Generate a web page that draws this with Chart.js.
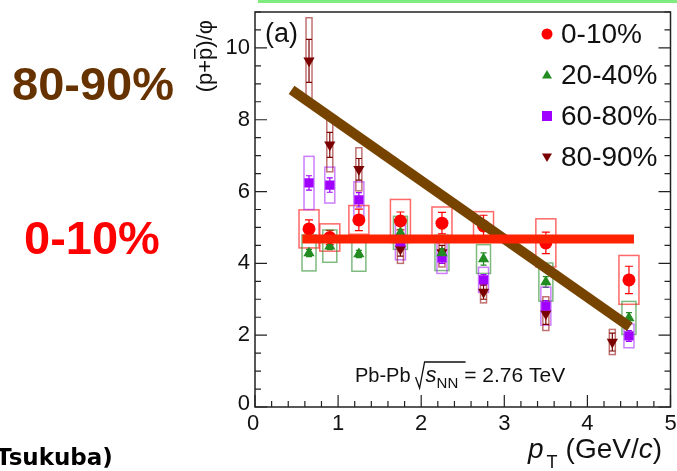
<!DOCTYPE html>
<html>
<head>
<meta charset="utf-8">
<script src="https://cdn.jsdelivr.net/npm/chart.js@4.4.1/dist/chart.umd.min.js"></script>
<style>
  html, body { margin: 0; padding: 0; background: #fff; }
</style>
</head>
<body>
<canvas id="myChart" width="677" height="471"></canvas>
<script>
// pT bin centres (GeV/c)
const ptBins = [0.65, 0.9, 1.25, 1.75, 2.25, 2.75, 3.5, 4.5];
const ptBins8090 = [0.65, 0.9, 1.25, 1.75, 2.25, 2.75, 3.5, 4.3];

// (p+pbar)/phi per centrality, with stat and sys errors
const ratio0010 = [4.96, 4.72, 5.21, 5.18, 5.12, 5.04, 4.57, 3.54];
const stat0010 = [0.25, 0.2, 0.3, 0.25, 0.3, 0.3, 0.3, 0.38];
const sys0010 = [0.53, 0.38, 0.4, 0.6, 0.45, 0.4, 0.67, 0.68];

const ratio2040 = [4.29, 4.48, 4.26, 4.85, 4.29, 4.12, 3.48, 2.48];
const stat2040 = [0.1, 0.1, 0.1, 0.1, 0.12, 0.17, 0.15, 0.15];
const sys2040 = [0.5, 0.45, 0.48, 0.46, 0.49, 0.4, 0.53, 0.46];

const ratio6080 = [6.24, 6.18, 5.77, 4.6, 4.15, 3.54, 2.81, 1.98];
const stat6080 = [0.2, 0.2, 0.2, 0.15, 0.15, 0.15, 0.15, 0.15];
const sys6080 = [0.74, 0.5, 0.5, 0.5, 0.43, 0.35, 0.53, 0.33];

const ratio8090 = [9.64, 7.3, 6.62, 4.4, 4.3, 3.2, 2.6, 1.81];
const stat8090 = [0.6, 0.35, 0.3, 0.2, 0.2, 0.2, 0.3, 0.25];
const sys8090 = [1.2, 0.75, 0.6, 0.4, 0.4, 0.3, 0.47, 0.35];

// hand-drawn trend lines on top of the plot
const brownLineX = [0.44, 4.51];
const brownLineY = [8.83, 2.23];
const redLineX = [0.57, 4.56];
const redLineY = [4.68, 4.68];

const xTicks = [0, 1, 2, 3, 4, 5];
const yTicks = [0, 2, 4, 6, 8, 10];

const series = [
    { label: '0-10%', x: ptBins, y: ratio0010, stat: stat0010, sys: sys0010,
      color: '#ff0000', box: 'rgba(255,40,40,0.7)', half: 10, cap: 4, style: 'circle', radius: 6.5, rot: 0 },
    { label: '20-40%', x: ptBins, y: ratio2040, stat: stat2040, sys: sys2040,
      color: '#228b22', box: 'rgba(40,140,40,0.6)', half: 7, cap: 3, style: 'triangle', radius: 6.5, rot: 0 },
    { label: '60-80%', x: ptBins, y: ratio6080, stat: stat6080, sys: sys6080,
      color: '#a000ff', box: 'rgba(170,40,255,0.6)', half: 5, cap: 3, style: 'rect', radius: 6.5, rot: 0 },
    { label: '80-90%', x: ptBins8090, y: ratio8090, stat: stat8090, sys: sys8090,
      color: '#7a0000', box: 'rgba(150,20,20,0.6)', half: 3, cap: 3, style: 'triangle', radius: 6.5, rot: 180 },
];

const toPoints = (xs, ys) => xs.map((v, i) => ({ x: v, y: ys[i] }));

const FONT = '"Liberation Sans", Arial, Helvetica, sans-serif';

const errorBars = {
    id: 'errorBars',
    beforeDatasetsDraw(chart) {
        const { ctx, scales: { x, y } } = chart;
        ctx.save();
        series.forEach(s => {
            ctx.strokeStyle = s.box;
            ctx.lineWidth = 1.5;
            s.x.forEach((v, i) => {
                const px = x.getPixelForValue(v);
                const top = y.getPixelForValue(s.y[i] + s.sys[i]);
                const bot = y.getPixelForValue(s.y[i] - s.sys[i]);
                ctx.strokeRect(px - s.half, top, 2 * s.half, bot - top);
            });
            ctx.strokeStyle = s.color;
            ctx.lineWidth = 1.2;
            s.x.forEach((v, i) => {
                const px = x.getPixelForValue(v);
                const top = y.getPixelForValue(s.y[i] + s.stat[i]);
                const bot = y.getPixelForValue(s.y[i] - s.stat[i]);
                ctx.beginPath();
                ctx.moveTo(px, top); ctx.lineTo(px, bot);
                ctx.moveTo(px - s.cap, top); ctx.lineTo(px + s.cap, top);
                ctx.moveTo(px - s.cap, bot); ctx.lineTo(px + s.cap, bot);
                ctx.stroke();
            });
        });
        ctx.restore();
    }
};

function marker(ctx, style, cx, cy, r, color, rot) {
    ctx.fillStyle = color;
    ctx.beginPath();
    if (style === 'circle') {
        ctx.arc(cx, cy, r, 0, Math.PI * 2);
    } else if (style === 'rect') {
        ctx.rect(cx - r, cy - r, 2 * r, 2 * r);
    } else {
        const d = rot ? -1 : 1;
        ctx.moveTo(cx, cy - d * r);
        ctx.lineTo(cx - r, cy + d * r * 0.7);
        ctx.lineTo(cx + r, cy + d * r * 0.7);
        ctx.closePath();
    }
    ctx.fill();
}

const frameAndText = {
    id: 'frameAndText',
    afterDraw(chart) {
        const { ctx, chartArea: a, scales: { x, y } } = chart;
        ctx.save();

        // green strip at the top of the slide
        ctx.fillStyle = '#80ec80';
        ctx.fillRect(258, 0, 419, 3);

        // frame
        ctx.strokeStyle = '#222';
        ctx.lineWidth = 1.5;
        ctx.strokeRect(a.left, a.top, a.right - a.left, a.bottom - a.top);

        // ticks
        ctx.lineWidth = 1.2;
        ctx.beginPath();
        for (let v = 0; v <= 11.001; v += 0.5) {
            const py = y.getPixelForValue(v);
            const len = Math.abs(v % 2) < 0.01 ? 12 : 6;
            ctx.moveTo(a.left, py); ctx.lineTo(a.left + len, py);
            ctx.moveTo(a.right, py); ctx.lineTo(a.right - len, py);
        }
        for (let v = 0; v <= 5.001; v += 0.2) {
            const px = x.getPixelForValue(v);
            const len = Math.abs(v - Math.round(v)) < 0.01 ? 12 : 6;
            ctx.moveTo(px, a.bottom); ctx.lineTo(px, a.bottom - len);
        }
        ctx.stroke();

        // tick labels
        ctx.fillStyle = '#111';
        ctx.font = '22px ' + FONT;
        ctx.textAlign = 'right';
        ctx.textBaseline = 'middle';
        yTicks.forEach(v => ctx.fillText(String(v), a.left - 5, y.getPixelForValue(v) - (v === 0 ? 3 : 0)));
        ctx.textAlign = 'center';
        ctx.textBaseline = 'top';
        xTicks.forEach(v => ctx.fillText(String(v), x.getPixelForValue(v) - (v === 0 ? 2 : 0), a.bottom + 6));

        // x title: p_T (GeV/c)
        ctx.textAlign = 'left';
        ctx.textBaseline = 'alphabetic';
        let tx = 528;
        ctx.font = 'italic 28px ' + FONT;
        ctx.fillText('p', tx, 458);
        tx += ctx.measureText('p').width + 3;
        ctx.font = '18px ' + FONT;
        ctx.fillText('T', tx, 468);
        tx += ctx.measureText('T').width + 8;
        ctx.font = '28px ' + FONT;
        ctx.fillText('(GeV/', tx, 458);
        tx += ctx.measureText('(GeV/').width;
        ctx.font = 'italic 28px ' + FONT;
        ctx.fillText('c', tx, 458);
        tx += ctx.measureText('c').width;
        ctx.font = '28px ' + FONT;
        ctx.fillText(')', tx, 458);

        // y title: (p+pbar)/phi, rotated
        ctx.save();
        ctx.translate(212, 20);
        ctx.rotate(-Math.PI / 2);
        ctx.font = '22px ' + FONT;
        ctx.textBaseline = 'alphabetic';
        const parts = ['(p+', 'p', ')/\u03c6'];
        const w = parts.map(p => ctx.measureText(p).width);
        let ty = -(w[0] + w[1] + w[2]);
        ctx.textAlign = 'left';
        ctx.fillText(parts[0], ty, 0); ty += w[0];
        ctx.fillText(parts[1], ty, 0);
        ctx.fillRect(ty + 1, -18, w[1] - 2, 1.5);
        ty += w[1];
        ctx.fillText(parts[2], ty, 0);
        ctx.restore();

        // panel tag
        ctx.font = '27px ' + FONT;
        ctx.textAlign = 'left';
        ctx.textBaseline = 'middle';
        ctx.fillText('(a)', 265, 35);

        // legend
        ctx.font = '28px ' + FONT;
        const legendY = [34, 75, 116, 157];
        series.forEach((s, i) => {
            marker(ctx, s.style, 547, legendY[i], s.style === 'circle' ? 5.5 : 5, s.color, s.rot);
            ctx.fillStyle = '#111';
            ctx.fillText(s.label, 561, legendY[i] + 1);
        });

        // collision system
        ctx.fillStyle = '#111';
        ctx.textBaseline = 'alphabetic';
        let sx = 355;
        ctx.font = '20px ' + FONT;
        ctx.fillText('Pb-Pb', sx, 382);
        sx += ctx.measureText('Pb-Pb').width + 5;
        ctx.strokeStyle = '#111';
        ctx.lineWidth = 1.3;
        ctx.beginPath();
        ctx.moveTo(sx, 377); ctx.lineTo(sx + 4, 388); ctx.lineTo(sx + 9, 362); ctx.lineTo(sx + 50, 362);
        ctx.stroke();
        sx += 10;
        ctx.font = 'italic 22px ' + FONT;
        ctx.fillText('s', sx, 382);
        sx += ctx.measureText('s').width;
        ctx.font = '15px ' + FONT;
        ctx.fillText('NN', sx, 388);
        sx += ctx.measureText('NN').width + 6;
        ctx.font = '21px ' + FONT;
        ctx.fillText('= 2.76 TeV', sx, 382);

        // slide annotations
        ctx.textAlign = 'left';
        ctx.textBaseline = 'middle';
        ctx.font = 'bold 47px ' + FONT;
        ctx.fillStyle = '#663300';
        ctx.fillText('80-90%', 12, 87);
        ctx.fillStyle = '#ff0000';
        ctx.fillText('0-10%', 24, 241);
        ctx.fillStyle = '#000';
        ctx.font = 'bold 23px "DejaVu Sans", sans-serif';
        ctx.textBaseline = 'alphabetic';
        ctx.fillText('Tsukuba)', -4, 465);

        ctx.restore();
    }
};

const ctx = document.getElementById('myChart').getContext('2d');

new Chart(ctx, {
    type: 'scatter',
    data: {
        datasets: [
            {
                type: 'line',
                data: toPoints(redLineX, redLineY),
                borderColor: '#ff2200',
                borderWidth: 9,
                pointRadius: 0,
                order: 0,
            },
            {
                type: 'line',
                data: toPoints(brownLineX, brownLineY),
                borderColor: '#774400',
                borderWidth: 10,
                pointRadius: 0,
                order: 1,
            },
            ...series.map(s => ({
                label: s.label,
                data: toPoints(s.x, s.y),
                pointStyle: s.style,
                pointRadius: s.radius,
                pointRotation: s.rot,
                backgroundColor: s.color,
                borderColor: s.color,
                borderWidth: 0,
                order: 2,
            })),
        ]
    },
    options: {
        responsive: false,
        animation: false,
        layout: {
            padding: { left: 255, right: 2, top: 12, bottom: 64 }
        },
        plugins: {
            legend: { display: false },
            tooltip: { enabled: false }
        },
        scales: {
            x: { type: 'linear', min: 0, max: 5, display: false },
            y: { min: 0, max: 11, display: false }
        }
    },
    plugins: [errorBars, frameAndText]
});
</script>
</body>
</html>
